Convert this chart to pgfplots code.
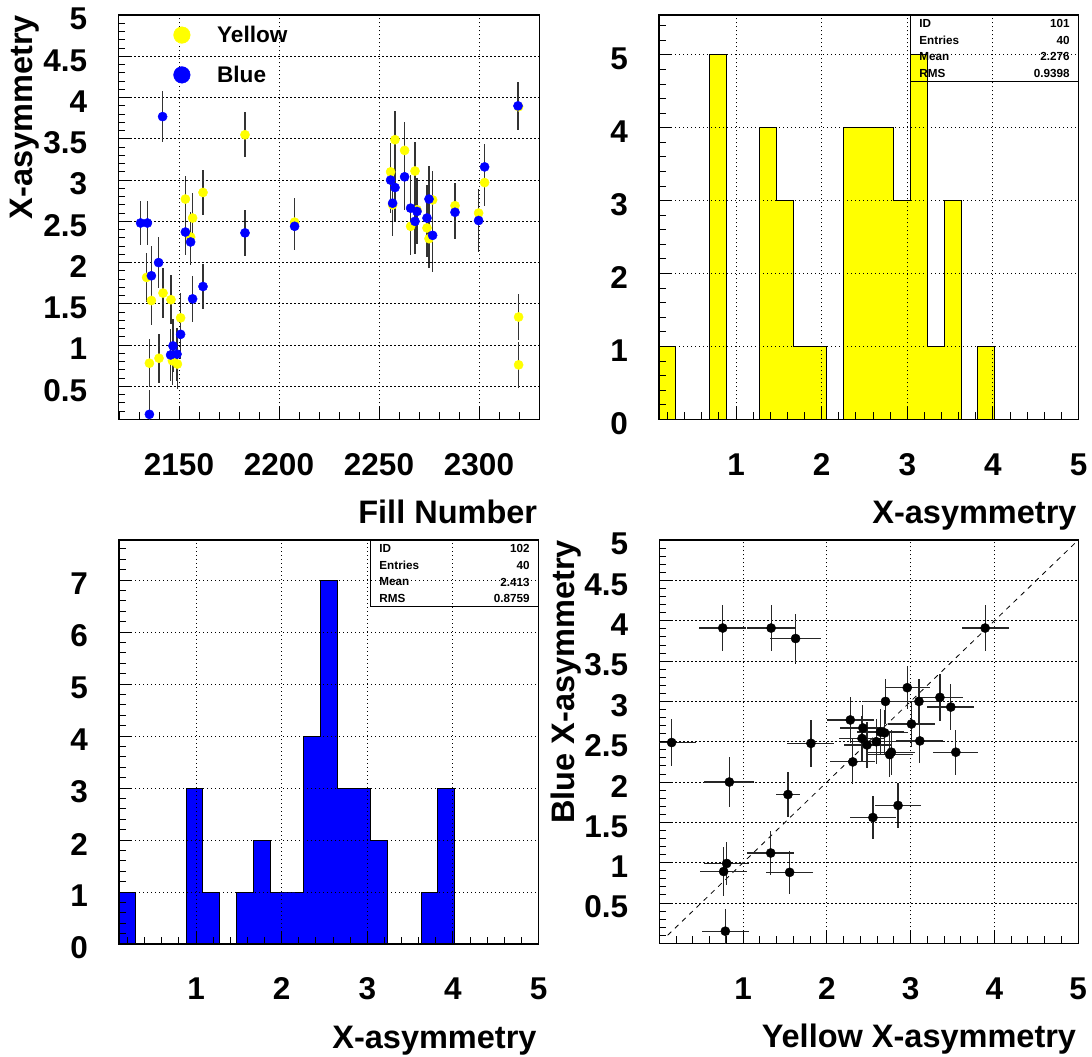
\documentclass[border=0pt]{standalone}
\usepackage{fontspec}
\setmainfont{Liberation Sans}
\usepackage{pgfplots}
\pgfplotsset{compat=1.18}
\definecolor{ryellow}{RGB}{255,255,0}
\definecolor{rblue}{RGB}{0,0,255}
\tikzset{statfont/.style={font=\fontsize{11.7}{12}\selectfont\bfseries, inner sep=0pt}}
\pgfplotsset{
  rootstyle/.style={
    scale only axis,
    axis line style={black, line width=1.1pt},
    tick style={black, line width=0.9pt},
    major tick length=12pt,
    minor tick length=7pt,
    tick align=inside,
    xtick pos=left, ytick pos=left,
    grid=major,
    major grid style={black, line width=0.9pt, dash pattern=on 1.2pt off 2.8pt},
    /pgf/number format/assume math mode=true,
    /pgf/number format/1000 sep={},
    tick label style={font=\fontsize{31.5}{31.5}\selectfont\bfseries, inner sep=0pt},
    xticklabel style={anchor=base, yshift=-56pt},
    yticklabel style={anchor=east, xshift=-31pt, yshift=-4pt},
    every axis x label/.style={at={(axis description cs:1,0)}, anchor=base east, yshift=-104pt, xshift=-2pt,
      font=\fontsize{32.5}{32.5}\selectfont\bfseries, inner sep=0pt},
    every axis y label/.style={at={(axis description cs:-0.203,1)}, rotate=90, anchor=base east,
      font=\fontsize{32.5}{32.5}\selectfont\bfseries, inner sep=0pt},
  },
  ydot/.style={legend image code/.code={\fill[ryellow] (0pt,0pt) circle (8.3pt);}},
  bdot/.style={legend image code/.code={\fill[rblue] (0pt,0pt) circle (8.3pt);}},
}
\begin{document}
\begin{tikzpicture}
\useasboundingbox (0,0) rectangle (1092pt,1057pt);

% ---------------- top left: asymmetry vs fill ----------------
\begin{axis}[rootstyle,
  at={(118.3pt,637.7pt)}, anchor=south west,
  width=421pt, height=404.3pt,
  xmin=2119.65, xmax=2330.15, ymin=0.1, ymax=5.002,
  xtick={2150,2200,2250,2300},
  minor xtick={2120,2130,...,2330},
  ytick={0.5,1,1.5,2,2.5,3,3.5,4,4.5,5},
  minor ytick={0.1,0.2,...,5.0},
  xlabel={Fill Number}, ylabel={X-asymmetry},
  legend style={draw=none, fill=none, at={(axis description cs:0.1309,0.9725)}, anchor=north west,
    font=\fontsize{22.6}{22.6}\selectfont\bfseries, inner sep=0pt, outer sep=0pt,
    row sep=22pt, nodes={inner sep=0pt},
    /tikz/every odd column/.append style={column sep=26.7pt}},
  legend cell align=left,
]
\addplot[forget plot, only marks, mark=*, mark size=4.6pt, color=ryellow,
  error bars/.cd, y dir=both, y explicit, error mark=none,
  error bar style={black!80, line width=1.3pt}]
  table[x=x, y=y, y error=e] {
x y e
2133.8 1.82 0.30
2135.2 0.78 0.29
2136.2 1.54 0.30
2140.0 0.84 0.30
2142.0 1.63 0.30
2146.0 1.55 0.30
2146.7 0.81 0.30
2149.2 0.77 0.30
2150.8 1.33 0.30
2153.2 2.77 0.28
2155.8 2.31 0.30
2156.8 2.54 0.30
2162.0 2.85 0.27
2183.0 3.55 0.27
2207.8 2.49 0.29
2255.8 3.10 0.35
2256.8 2.70 0.35
2258.0 3.49 0.35
2262.8 3.36 0.35
2265.8 2.44 0.35
2268.0 3.11 0.35
2269.0 2.64 0.35
2274.0 2.42 0.35
2275.0 2.29 0.35
2276.8 2.76 0.35
2288.0 2.69 0.28
2299.8 2.60 0.28
2302.8 2.97 0.28
2319.8 1.34 0.28
2319.8 0.76 0.28
2319.8 3.89 0.28
};
\addplot[forget plot, only marks, mark=*, mark size=4.6pt, color=rblue,
  error bars/.cd, y dir=both, y explicit, error mark=none,
  error bar style={black!80, line width=1.3pt}]
  table[x=x, y=y, y error=e] {
x y e
2130.8 2.48 0.27
2134.2 2.48 0.27
2135.2 0.16 0.30
2136.2 1.84 0.36
2139.8 2.00 0.31
2141.8 3.77 0.31
2145.8 0.88 0.32
2147.0 0.99 0.32
2149.0 0.89 0.32
2150.8 1.13 0.30
2153.2 2.37 0.28
2155.8 2.25 0.28
2156.8 1.56 0.28
2162.0 1.71 0.27
2183.0 2.36 0.28
2207.8 2.44 0.29
2255.8 3.00 0.40
2256.8 2.72 0.40
2258.0 2.91 0.40
2262.8 3.04 0.40
2265.8 2.66 0.40
2268.0 2.50 0.40
2269.0 2.62 0.40
2274.0 2.54 0.40
2275.0 2.77 0.40
2276.8 2.33 0.45
2288.0 2.61 0.32
2299.8 2.51 0.38
2302.8 3.16 0.28
2319.5 3.90 0.29
};
\addlegendimage{ydot}
\addlegendentry{Yellow}
\addlegendimage{bdot}
\addlegendentry{Blue}
\end{axis}

% ---------------- top right: yellow histogram ----------------
\begin{axis}[rootstyle, axis on top,
  at={(659pt,637.7pt)}, anchor=south west,
  width=419.7pt, height=404.3pt,
  xmin=0.1, xmax=5.002, ymin=0, ymax=5.546,
  xtick={1,2,3,4,5}, minor xtick={0.2,0.4,...,5.0},
  ytick={0,1,2,3,4,5}, minor ytick={0.2,0.4,...,5.4},
  xlabel={X-asymmetry},
]
\addplot[const plot, fill=ryellow, draw=black, line width=0.9pt] coordinates {
(0.1,1) (0.296,0) (0.688,5) (0.884,0) (1.276,4) (1.472,3) (1.668,1) (1.864,1)
(2.06,0) (2.256,4) (2.452,4) (2.648,4) (2.844,3) (3.04,5) (3.236,1) (3.432,3)
(3.628,0) (3.824,1) (4.02,0) (5.0,0)} \closedcycle;
\draw[black, line width=0.9pt] (axis description cs:0.5997,0.835) rectangle (axis description cs:1,1);
\node[statfont, anchor=west] at (axis description cs:0.620,0.978) {ID};
\node[statfont, anchor=west] at (axis description cs:0.620,0.938) {Entries};
\node[statfont, anchor=west] at (axis description cs:0.620,0.897) {Mean};
\node[statfont, anchor=west] at (axis description cs:0.620,0.856) {RMS};
\node[statfont, anchor=east] at (axis description cs:0.979,0.978) {101};
\node[statfont, anchor=east] at (axis description cs:0.979,0.938) {40};
\node[statfont, anchor=east] at (axis description cs:0.979,0.897) {2.276};
\node[statfont, anchor=east] at (axis description cs:0.979,0.856) {0.9398};
\end{axis}

% ---------------- bottom left: blue histogram ----------------
\begin{axis}[rootstyle, axis on top,
  at={(119pt,113pt)}, anchor=south west,
  width=419.7pt, height=404pt,
  xmin=0.1, xmax=5.002, ymin=0, ymax=7.77,
  xtick={1,2,3,4,5}, minor xtick={0.2,0.4,...,5.0},
  ytick={0,1,2,3,4,5,6,7}, minor ytick={0.2,0.4,...,7.6},
  xlabel={X-asymmetry},
]
\addplot[const plot, fill=rblue, draw=black, line width=0.9pt] coordinates {
(0.1,1) (0.296,0) (0.884,3) (1.08,1) (1.276,0) (1.472,1) (1.668,2) (1.864,1)
(2.06,1) (2.256,4) (2.452,7) (2.648,3) (2.844,3) (3.04,2) (3.236,0) (3.628,1)
(3.824,3) (4.02,0) (5.0,0)} \closedcycle;
\draw[black, line width=0.9pt] (axis description cs:0.5997,0.8366) rectangle (axis description cs:1,1);
\node[statfont, anchor=west] at (axis description cs:0.620,0.980) {ID};
\node[statfont, anchor=west] at (axis description cs:0.620,0.938) {Entries};
\node[statfont, anchor=west] at (axis description cs:0.620,0.896) {Mean};
\node[statfont, anchor=west] at (axis description cs:0.620,0.855) {RMS};
\node[statfont, anchor=east] at (axis description cs:0.979,0.980) {102};
\node[statfont, anchor=east] at (axis description cs:0.979,0.938) {40};
\node[statfont, anchor=east] at (axis description cs:0.979,0.896) {2.413};
\node[statfont, anchor=east] at (axis description cs:0.979,0.855) {0.8759};
\end{axis}

% ---------------- bottom right: blue vs yellow ----------------
\begin{axis}[rootstyle,
  at={(659.3pt,113.7pt)}, anchor=south west,
  width=419pt, height=403.3pt,
  xmin=0, xmax=5.002, ymin=0, ymax=5.002,
  xtick={1,2,3,4,5}, minor xtick={0.2,0.4,...,4.8},
  ytick={0.5,1,1.5,2,2.5,3,3.5,4,4.5,5}, minor ytick={0.1,0.2,...,4.9},
  xlabel={Yellow X-asymmetry}, ylabel={Blue X-asymmetry},
]
\addplot[black, line width=0.8pt, dash pattern=on 5pt off 5pt] coordinates {(0.1,0.1) (5,5)};
\addplot[only marks, mark=*, mark size=4.6pt, color=black,
  error bars/.cd, x dir=both, x explicit, y dir=both, y explicit, error mark=none,
  error bar style={black!85, line width=1.2pt}]
  table[x=x, y=y, x error=ex, y error=ey] {
x y ex ey
0.147 2.49 0.29 0.29
0.757 3.91 0.28 0.28
1.335 3.91 0.29 0.28
1.627 3.78 0.30 0.31
0.836 2.00 0.30 0.31
1.81 2.48 0.28 0.29
1.536 1.845 0.14 0.28
1.33 1.12 0.28 0.27
0.804 0.99 0.27 0.27
0.768 0.89 0.28 0.30
1.556 0.88 0.28 0.27
0.788 0.15 0.28 0.27
3.89 3.91 0.28 0.28
2.96 3.17 0.27 0.27
2.70 3.00 0.28 0.28
3.10 3.00 0.27 0.28
3.35 3.05 0.27 0.29
3.48 2.93 0.28 0.28
2.28 2.77 0.28 0.29
3.01 2.72 0.28 0.28
2.43 2.67 0.27 0.28
2.64 2.62 0.28 0.28
2.69 2.61 0.28 0.28
2.42 2.54 0.28 0.28
2.59 2.50 0.28 0.28
3.11 2.51 0.28 0.28
2.48 2.46 0.28 0.28
2.77 2.37 0.28 0.28
2.75 2.34 0.28 0.28
3.54 2.37 0.27 0.28
2.31 2.25 0.27 0.28
2.85 1.71 0.27 0.28
2.55 1.56 0.27 0.27
};
\end{axis}
\end{tikzpicture}
\end{document}
